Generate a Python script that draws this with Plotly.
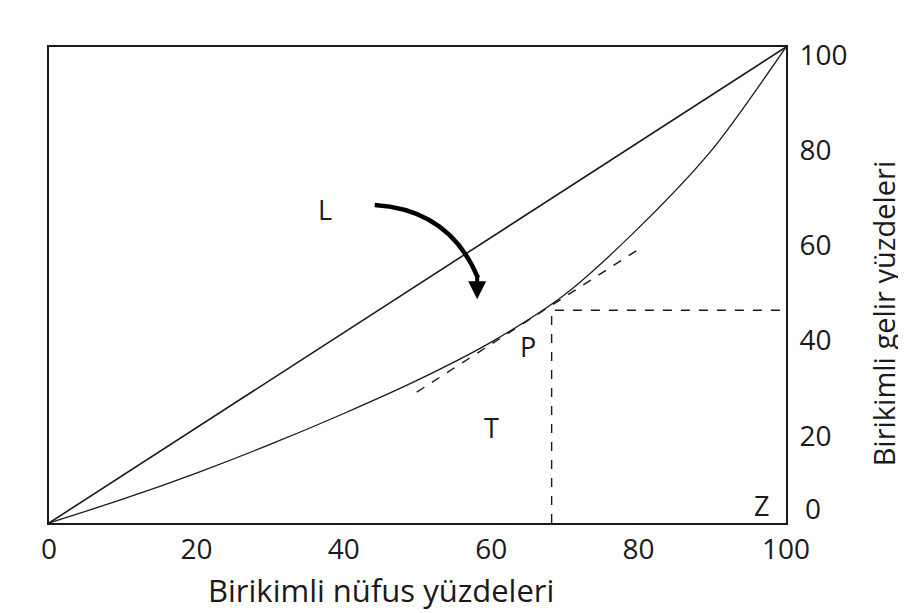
import plotly.graph_objects as go

# Lorenz curve data
pop_share = [0, 10, 20, 30, 40, 50, 60, 70, 80, 90, 100]
income_share = [0, 5, 10.5, 16.5, 23, 30, 38, 48, 62, 78.5, 100]

equality_x = [0, 100]
equality_y = [0, 100]

tangent_x = [49.9, 80.5]
tangent_y = [27.5, 58.0]

# point P: population share and income share
p_pop = 68.2
p_income = 44.7

tick_vals = [0, 20, 40, 60, 80, 100]
tick_text = ["0", "20", "40", "60", "80", "100"]

x_title = "Birikimli nüfus yüzdeleri"
y_title = "Birikimli gelir yüzdeleri"

FONT = "Open Sans"
INK = "#1a1a1a"

fig = go.Figure()

fig.add_trace(go.Scatter(x=equality_x, y=equality_y, mode="lines",
                         line=dict(color=INK, width=1.6), hoverinfo="skip"))
fig.add_trace(go.Scatter(x=pop_share, y=income_share, mode="lines",
                         line=dict(color=INK, width=1.3, shape="spline", smoothing=0.8),
                         hoverinfo="skip"))
fig.add_trace(go.Scatter(x=tangent_x, y=tangent_y, mode="lines",
                         line=dict(color=INK, width=1.4, dash="dash"), hoverinfo="skip"))
# dashed guides from P down to the x axis and across to the right edge
fig.add_trace(go.Scatter(x=[p_pop, p_pop, 100], y=[0, p_income, p_income], mode="lines",
                         line=dict(color=INK, width=1.4, dash="dash"), hoverinfo="skip"))

# curved arrow from L towards the Lorenz curve
fig.add_shape(type="path", path="M 44.2,66.8 Q 54.4,65.8 58.2,51.5",
              line=dict(color="black", width=4.5), xref="x", yref="y")
fig.add_annotation(x=58.1, y=47.0, ax=58.1, ay=52.5, axref="x", ayref="y",
                   xref="x", yref="y", showarrow=True, arrowhead=2,
                   arrowsize=0.9, arrowwidth=4, arrowcolor="black", text="")

letters = [
    ("O", -3.7, 3.2),
    ("M", 100.6, 106.9),
    ("L", 37.5, 65.8),
    ("P", 65.0, 37.0),
    ("T", 60.1, 20.0),
    ("Z", 96.7, 3.6),
]
for txt, lx, ly in letters:
    fig.add_annotation(x=lx, y=ly, text=txt, showarrow=False,
                       font=dict(family=FONT, size=27, color=INK))

# the right-hand "0" sits above the corner in the original, clear of the x-axis "100"
fig.add_annotation(x=1.023, y=3.2, xref="paper", yref="y", text=tick_text[0],
                   xanchor="left", yanchor="middle", showarrow=False,
                   font=dict(family=FONT, size=28, color=INK))

# axis titles sit off-centre in the original, so place them as annotations
fig.add_annotation(x=0.45, y=-0.141, xref="paper", yref="paper", text=x_title,
                   xanchor="center", yanchor="middle", showarrow=False,
                   font=dict(family=FONT, size=31, color=INK))
fig.add_annotation(x=1.132, y=0.441, xref="paper", yref="paper", text=y_title,
                   xanchor="center", yanchor="middle", textangle=-90, showarrow=False,
                   font=dict(family=FONT, size=29, color=INK))

# the page body adds an 8px offset, so margins are trimmed to compensate
fig.update_layout(
    width=906, height=613,
    margin=dict(l=41, r=128, t=39, b=98),
    paper_bgcolor="white", plot_bgcolor="white",
    showlegend=False,
    font=dict(family=FONT, size=26, color=INK),
)
fig.update_xaxes(range=[0, 100], tickvals=tick_vals, ticktext=tick_text,
                 automargin=False,
                 showgrid=False, zeroline=False, showline=True, mirror=True,
                 linecolor=INK, linewidth=2, ticks="",
                 tickfont=dict(family=FONT, size=28, color=INK))
fig.update_yaxes(range=[0, 100], tickvals=tick_vals[1:], ticktext=tick_text[1:],
                 side="right", automargin=False, ticklabelshift=8,
                 ticklabelstandoff=6,
                 showgrid=False, zeroline=False, showline=True, mirror=True,
                 linecolor=INK, linewidth=2, ticks="",
                 tickfont=dict(family=FONT, size=28, color=INK))

fig.write_html("out.html")
